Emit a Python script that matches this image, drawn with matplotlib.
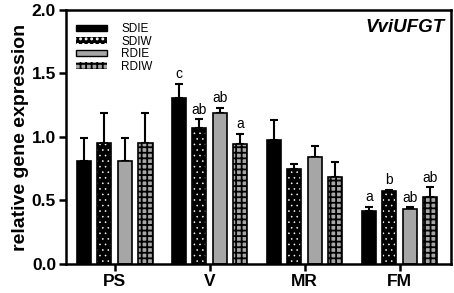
import numpy as np
import matplotlib.pyplot as plt

plt.rcParams['font.family'] = ['Liberation Sans', 'DejaVu Sans']

stages = ['PS', 'V', 'MR', 'FM']
treatments = ['SDIE', 'SDIW', 'RDIE', 'RDIW']

sdie = [0.81, 1.31, 0.98, 0.42]
sdiw = [0.95, 1.07, 0.75, 0.575]
rdie = [0.81, 1.19, 0.845, 0.435]
rdiw = [0.95, 0.945, 0.685, 0.53]

sdie_err = [0.18, 0.11, 0.15, 0.03]
sdiw_err = [0.24, 0.07, 0.04, 0.01]
rdie_err = [0.18, 0.04, 0.085, 0.01]
rdiw_err = [0.24, 0.08, 0.12, 0.075]

letters = {
    'SDIE': ['', 'c', '', 'a'],
    'SDIW': ['', 'ab', '', 'b'],
    'RDIE': ['', 'ab', '', 'ab'],
    'RDIW': ['', 'a', '', 'ab'],
}

values = [sdie, sdiw, rdie, rdiw]
errors = [sdie_err, sdiw_err, rdie_err, rdiw_err]
faces = ['black', 'black', '#a6a6a6', '#a6a6a6']
hatches = [None, '...', None, '+++']
hatch_cols = [None, 'white', None, 'black']
hatch_lws = [None, 0.4, None, 1.3]

fig = plt.figure(figsize=(4.54, 2.93), dpi=100)
ax = fig.add_axes([0.145, 0.099, 0.848, 0.867])

x = np.arange(len(stages))
w = 0.148
offsets = [-0.324, -0.108, 0.108, 0.324]


def set_hlw(p, lw):
    if hasattr(p, 'set_hatch_linewidth'):
        p.set_hatch_linewidth(lw)


handles = []
for i, t in enumerate(treatments):
    pos = x + offsets[i]
    if hatches[i]:
        plt.rcParams['hatch.linewidth'] = hatch_lws[i]
        bars = ax.bar(pos, values[i], w, color=faces[i], edgecolor=hatch_cols[i],
                      hatch=hatches[i], linewidth=0, zorder=2)
        for p in bars:
            set_hlw(p, hatch_lws[i])
    else:
        ax.bar(pos, values[i], w, color=faces[i], linewidth=0, zorder=2)
    ax.bar(pos, values[i], w, fill=False, edgecolor='black', linewidth=1.2, zorder=3)
    ax.errorbar(pos, values[i], yerr=[np.zeros(4), errors[i]], fmt='none',
                ecolor='black', elinewidth=1.5, capsize=3, capthick=1.5, zorder=1)
    for j in range(4):
        if letters[t][j]:
            ax.text(pos[j], values[i][j] + errors[i][j] + 0.02, letters[t][j],
                    ha='center', va='bottom', fontsize=10)
    h = plt.Rectangle((0, 0), 1, 1, facecolor=faces[i],
                      edgecolor=hatch_cols[i] if hatches[i] else 'black',
                      hatch=hatches[i], linewidth=0 if hatches[i] else 1.0)
    if hatches[i]:
        set_hlw(h, hatch_lws[i])
    handles.append(h)

leg = ax.legend(handles, treatments, loc='upper left', frameon=False,
                fontsize=8.5, handlelength=2.6, handleheight=0.5,
                labelspacing=0.05, handletextpad=1.2,
                bbox_to_anchor=(0.0, 0.99))

ax.text(0.985, 0.965, 'VviUFGT', transform=ax.transAxes, ha='right', va='top',
        fontsize=13.5, fontweight='bold', fontstyle='italic')

ax.set_xlim(-0.515, 3.54)
ax.set_ylim(0, 2.0)
ax.set_yticks([0, 0.5, 1.0, 1.5, 2.0])
ax.set_yticklabels(['0.0', '0.5', '1.0', '1.5', '2.0'])
ax.set_xticks(x)
ax.set_xticklabels(stages)
ax.set_ylabel('relative gene expression', fontsize=14, fontweight='bold', labelpad=2)
for lab in ax.get_xticklabels() + ax.get_yticklabels():
    lab.set_fontweight('bold')
    lab.set_fontsize(12.5)
ax.tick_params(width=1.8, length=5, direction='out', pad=2)
for s in ax.spines.values():
    s.set_linewidth(1.8)

fig.savefig('out.png', dpi=100)
